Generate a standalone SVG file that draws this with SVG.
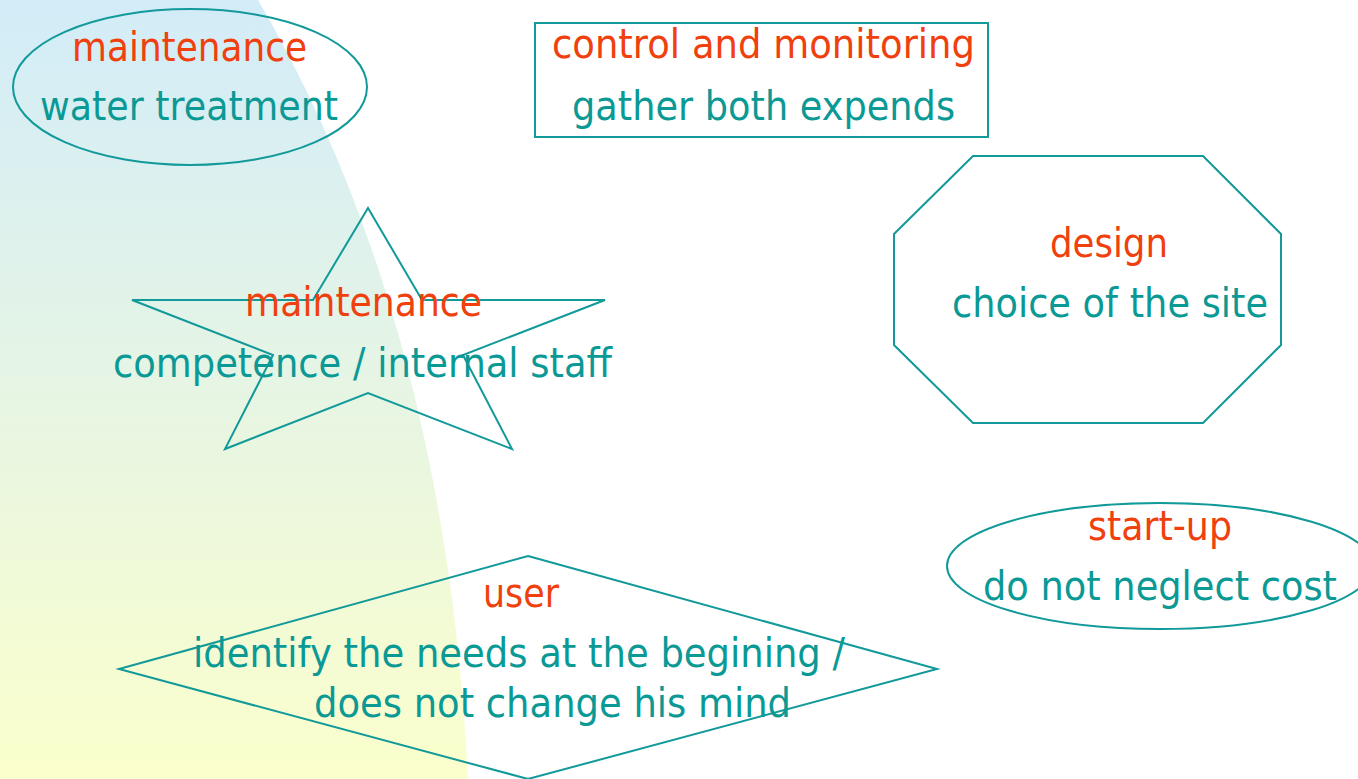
<svg xmlns="http://www.w3.org/2000/svg" width="1358" height="779" viewBox="0 0 1358 779">
  <defs>
    <linearGradient id="panelFill" x1="0" y1="0" x2="0" y2="1">
      <stop offset="0" stop-color="#d2ecf8"/>
      <stop offset="0.45" stop-color="#e4f4e6"/>
      <stop offset="1" stop-color="#fbffcc"/>
    </linearGradient>
  </defs>
  <style>
    .shape { fill: none; stroke: #12999a; stroke-width: 2; }
    text { font-family: "DejaVu Sans", "Noto Sans", sans-serif; font-size: 40px; text-anchor: middle; }
    .title { fill: #f0400d; }
    .body { fill: #0b9995; }
  </style>

  <rect width="1358" height="779" fill="#ffffff"/>
  <!-- soft coloured panel on the left -->
  <path d="M0,0 L258,0 Q445,320 468,779 L0,779 Z" fill="url(#panelFill)"/>

  <g id="connectors"/>

  <g id="node-maintenance-water">
    <ellipse class="shape" cx="190" cy="87" rx="177" ry="78"/>
    <text class="title" x="189.5" y="61" textLength="235" lengthAdjust="spacingAndGlyphs">maintenance</text>
    <text class="body" x="189" y="120" textLength="298" lengthAdjust="spacingAndGlyphs">water treatment</text>
  </g>

  <g id="node-control">
    <rect class="shape" x="535" y="23" width="453" height="114"/>
    <text class="title" x="763.5" y="58" textLength="423" lengthAdjust="spacingAndGlyphs">control and monitoring</text>
    <text class="body" x="763.5" y="120" textLength="383" lengthAdjust="spacingAndGlyphs">gather both expends</text>
  </g>

  <g id="node-design">
    <polygon class="shape" points="973,156 1203,156 1281,234 1281,345 1203,423 973,423 894,345 894,234"/>
    <text class="title" x="1109" y="257" textLength="118" lengthAdjust="spacingAndGlyphs">design</text>
    <text class="body" x="1110" y="317" textLength="316" lengthAdjust="spacingAndGlyphs">choice of the site</text>
  </g>

  <g id="node-maintenance-staff">
    <polygon class="shape" points="368,208 422,300 605,300 463,355 512,449 368,393 225,449 273,355 132,300 313,300"/>
    <text class="title" x="363.5" y="316" textLength="237" lengthAdjust="spacingAndGlyphs">maintenance</text>
    <text class="body" x="362.5" y="377" textLength="499" lengthAdjust="spacingAndGlyphs">competence / internal staff</text>
  </g>

  <g id="node-startup">
    <ellipse class="shape" cx="1160" cy="566" rx="213" ry="63"/>
    <text class="title" x="1160" y="540" textLength="144" lengthAdjust="spacingAndGlyphs">start-up</text>
    <text class="body" x="1160" y="600" textLength="354" lengthAdjust="spacingAndGlyphs">do not neglect cost</text>
  </g>

  <g id="node-user">
    <polygon class="shape" points="528,556 937,669 528,779 119,669"/>
    <text class="title" x="521" y="607" textLength="76" lengthAdjust="spacingAndGlyphs">user</text>
    <text class="body" x="519" y="667" textLength="652" lengthAdjust="spacingAndGlyphs">identify the needs at the begining /</text>
    <text class="body" x="552.5" y="717" textLength="477" lengthAdjust="spacingAndGlyphs">does not change his mind</text>
  </g>
</svg>
